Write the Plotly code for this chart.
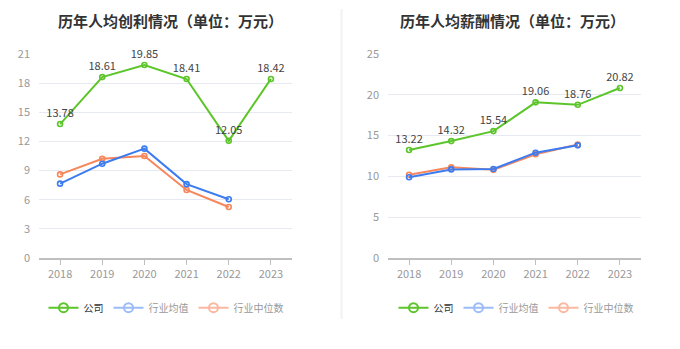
import plotly.graph_objects as go

years = ["2018", "2019", "2020", "2021", "2022", "2023"]

profit_company = [13.78, 18.61, 19.85, 18.41, 12.05, 18.42]
profit_avg = [7.65, 9.7, 11.25, 7.6, 6.05, None]
profit_median = [8.6, 10.2, 10.5, 7.0, 5.25, None]

salary_company = [13.22, 14.32, 15.54, 19.06, 18.76, 20.82]
salary_avg = [9.9, 10.85, 10.9, 12.9, 13.8, None]
salary_median = [10.2, 11.1, 10.8, 12.7, 13.9, None]

titles = ["历年人均创利情况（单位：万元）", "历年人均薪酬情况（单位：万元）"]
series_names = ["公司", "行业均值", "行业中位数"]

GREEN = "#5cc52a"
BLUE = "#3d7cf0"
ORANGE = "#f7875b"
LEG_COLORS = [GREEN, "#9bbcf7", "#fbb8a0"]
LEG_TEXT = ["#333333", "#999999", "#999999"]
FONT = "Noto Sans CJK SC"
W, H = 680, 349

fig = go.Figure()

panels = [
    (profit_company, profit_avg, profit_median, "x", "y", "legend"),
    (salary_company, salary_avg, salary_median, "x2", "y2", "legend2"),
]

for comp, avg, med, xa, ya, lname in panels:
    for vals, color in [(med, ORANGE), (avg, BLUE)]:
        fig.add_trace(go.Scatter(
            x=years, y=vals, mode="lines+markers", xaxis=xa, yaxis=ya,
            line=dict(color=color, width=2),
            marker=dict(symbol="circle-open", size=5, color=color, line=dict(width=1.6)),
            showlegend=False, hoverinfo="skip", cliponaxis=False))
    fig.add_trace(go.Scatter(
        x=years, y=comp, mode="lines+markers+text", xaxis=xa, yaxis=ya,
        line=dict(color=GREEN, width=2),
        marker=dict(symbol="circle-open", size=5, color=GREEN, line=dict(width=1.6)),
        text=[f"{v:.2f}" for v in comp], textposition="top center",
        textfont=dict(family=FONT, size=11, color="#444444"),
        showlegend=False, hoverinfo="skip", cliponaxis=False))
    for name, lc, tc in zip(series_names, LEG_COLORS, LEG_TEXT):
        fig.add_trace(go.Scatter(
            x=[None], y=[None], mode="lines+markers", xaxis=xa, yaxis=ya,
            name=f"<span style='color:{tc}'>{name}</span>",
            line=dict(color=lc, width=2),
            marker=dict(symbol="circle-open", size=9, color=lc, line=dict(width=2)),
            legend=lname))

axis_common = dict(tickfont=dict(family=FONT, size=11, color="#999999"))
xcommon = dict(range=[-0.5, 5.5], type="category", showgrid=False, showline=True,
               linecolor="#bfbfbf", linewidth=2, ticks="outside", ticklen=5,
               tickcolor="#bfbfbf", tickwidth=1, **axis_common)
ycommon = dict(domain=[1 - 261 / H, 1 - 47 / H], showgrid=True, gridcolor="#e6e9f2",
               gridwidth=1, zeroline=False, showline=False, ticks="",
               ticklabelstandoff=8, **axis_common)
legcommon = dict(orientation="h", xanchor="center", y=1 - 313 / H, yanchor="middle",
                 font=dict(family=FONT, size=10, color="#333333"), itemwidth=30,
                 bgcolor="rgba(0,0,0,0)", borderwidth=0)

fig.update_layout(
    width=W, height=H,
    margin=dict(l=0, r=0, t=0, b=0),
    paper_bgcolor="white", plot_bgcolor="white",
    font=dict(family=FONT),
    xaxis=dict(domain=[39 / W, 292 / W], anchor="y", **xcommon),
    yaxis=dict(range=[0, 21], dtick=3, anchor="x", **ycommon),
    xaxis2=dict(domain=[388 / W, 641 / W], anchor="y2", **xcommon),
    yaxis2=dict(range=[0, 25], dtick=5, anchor="x2", **ycommon),
    showlegend=True,
    legend=dict(x=166 / W, **legcommon),
    legend2=dict(x=516 / W, **legcommon),
)

for cx, t in zip([170 / W, 512 / W], titles):
    fig.add_annotation(text=f"<b>{t}</b>", x=cx, y=1 - 12 / H, xref="paper", yref="paper",
                       xanchor="center", yanchor="middle", showarrow=False,
                       font=dict(family=FONT, size=15, color="#333333"))

fig.add_shape(type="line", xref="paper", yref="paper", x0=341.5 / W, x1=341.5 / W,
              y0=1 - 325 / H, y1=1, line=dict(color="#f2f2f2", width=2))

fig.write_html("out.html")
